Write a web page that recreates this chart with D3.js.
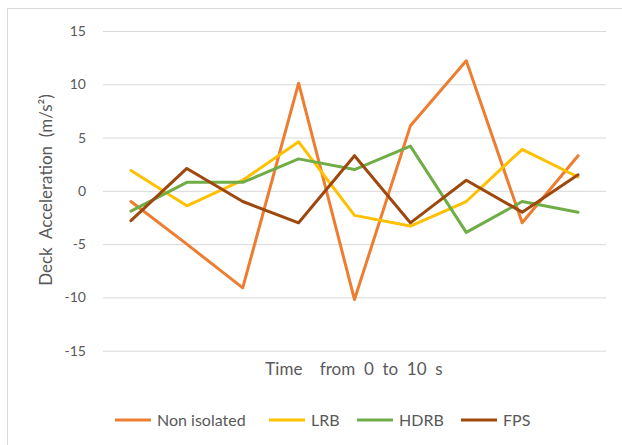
<!DOCTYPE html>
<html>
<head>
<meta charset="utf-8">
<script src="https://cdn.jsdelivr.net/npm/d3@7/dist/d3.min.js"></script>
<style>
  html, body { margin: 0; padding: 0; background: #fff; }
  svg { display: block; }
  text { font-family: Lato, "Open Sans", sans-serif; fill: #595959; }
</style>
</head>
<body>
<svg id="chart" width="622" height="445"></svg>
<script>
// Deck acceleration samples over 0–10 s for each isolation scheme
const steps = [0, 1, 2, 3, 4, 5, 6, 7, 8];
const nonIsolated = [-1.0, -5.0, -9.1, 10.1, -10.2, 6.1, 12.2, -3.0, 3.3];
const lrb = [1.9, -1.4, 1.0, 4.6, -2.3, -3.3, -1.0, 3.9, 1.3];
const hdrb = [-1.9, 0.8, 0.8, 3.0, 2.0, 4.2, -3.9, -1.0, -2.0];
const fps = [-2.8, 2.1, -1.0, -3.0, 3.3, -3.0, 1.0, -2.0, 1.5];
const yTicks = [-15, -10, -5, 0, 5, 10, 15];

const seriesNames = ["Non isolated", "LRB", "HDRB", "FPS"];
const seriesColors = ["#ED7D31", "#FFC000", "#70AD47", "#9E480E"];
const series = [nonIsolated, lrb, hdrb, fps].map((vals, i) => ({
  name: seriesNames[i], color: seriesColors[i], values: vals
}));

const svg = d3.select("#chart");

// outer chart frame
svg.append("rect")
  .attr("x", 7.5).attr("y", 8.5)
  .attr("width", 700).attr("height", 500)
  .attr("fill", "#fff").attr("stroke", "#d9d9d9").attr("stroke-width", 1);

const left = 103, right = 606;
const x = d3.scalePoint().domain(steps).range([left, right]).padding(0.5);
const y = d3.scaleLinear().domain([-15, 15]).range([350.7, 31]);

// value axis with gridlines
const yAxis = svg.append("g")
  .attr("transform", `translate(${left},0)`)
  .call(d3.axisLeft(y).tickValues(yTicks).tickSize(-(right - left)).tickPadding(17).tickFormat(d => String(d)));
yAxis.select(".domain").remove();
yAxis.selectAll(".tick line").attr("stroke", "#d9d9d9").attr("stroke-width", 1);
yAxis.selectAll(".tick text").style("font-size", "14px").attr("fill", "#595959");

// series lines
const line = d3.line().x((d, i) => x(steps[i])).y(d => y(d));
svg.append("g").selectAll("path")
  .data(series)
  .join("path")
  .attr("d", d => line(d.values))
  .attr("fill", "none")
  .attr("stroke", d => d.color)
  .attr("stroke-width", 3)
  .attr("stroke-linejoin", "round")
  .attr("stroke-linecap", "round");

// axis titles
svg.append("text")
  .attr("x", 354).attr("y", 375)
  .attr("text-anchor", "middle")
  .style("font-size", "17px")
  .style("white-space", "pre")
  .text("Time    from  0  to  10  s");

svg.append("text")
  .attr("transform", "translate(52,190) rotate(-90)")
  .attr("text-anchor", "middle")
  .style("font-size", "17px")
  .style("white-space", "pre")
  .text("Deck  Acceleration  (m/s²)");

// legend
const legendX = [115, 269, 357, 461];
const legend = svg.append("g").selectAll("g")
  .data(series)
  .join("g")
  .attr("transform", (d, i) => `translate(${legendX[i]},420)`);
legend.append("line")
  .attr("x1", 0).attr("x2", 36).attr("y1", 0).attr("y2", 0)
  .attr("stroke", d => d.color).attr("stroke-width", 3);
legend.append("text")
  .attr("x", 42).attr("y", 5.5)
  .style("font-size", "16px")
  .text(d => d.name);
</script>
</body>
</html>
